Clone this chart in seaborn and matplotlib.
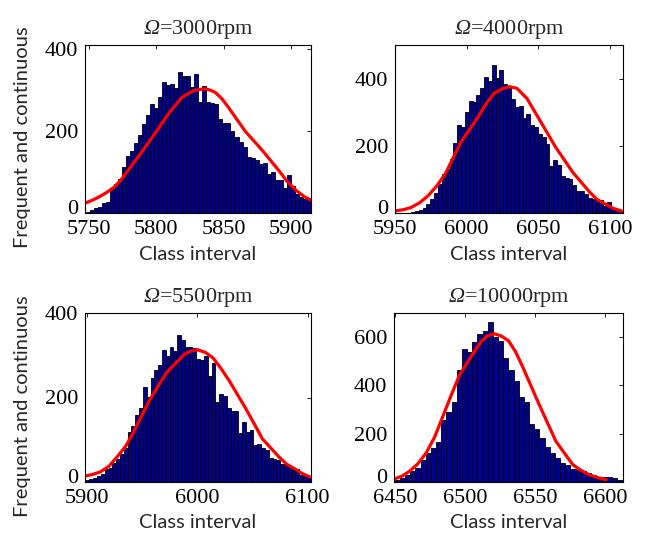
import numpy as np
import pandas as pd
import matplotlib
matplotlib.use('Agg')
import matplotlib.pyplot as plt
import matplotlib.transforms as mtransforms
import seaborn as sns

# speeds shown in the panel titles
speeds = [3000, 4000, 5500, 10000]

# histogram counts (one list per panel)
counts_3000 = [3, 7, 13, 14, 25, 27, 59, 70, 84, 112, 138, 152, 172, 190, 216, 240, 266, 256, 282, 320,
               312, 315, 304, 343, 335, 335, 308, 340, 272, 311, 272, 268, 266, 230, 219, 219, 200, 185, 173, 162,
               137, 134, 129, 120, 121, 96, 100, 80, 81, 61, 93, 65, 47, 39, 35, 31]
counts_4000 = [0, 0, 1, 1, 3, 6, 9, 16, 26, 43, 59, 86, 116, 131, 161, 209, 261, 255, 301, 334,
               331, 351, 371, 404, 393, 439, 403, 426, 383, 371, 339, 316, 319, 283, 296, 261, 256, 236, 226, 206,
               141, 158, 143, 111, 104, 101, 83, 66, 66, 58, 46, 41, 41, 38, 21, 33, 14, 11, 6]
counts_5500 = [4, 6, 9, 14, 20, 31, 33, 45, 55, 67, 81, 119, 132, 158, 176, 224, 202, 247, 265, 276,
               312, 298, 320, 310, 349, 336, 320, 320, 318, 292, 288, 298, 251, 282, 190, 208, 204, 176, 169, 169,
               116, 141, 118, 122, 88, 90, 80, 75, 56, 55, 51, 43, 43, 35, 30, 31, 16, 16, 12]
counts_10000 = [10, 17, 28, 44, 58, 90, 120, 140, 166, 258, 289, 330, 463, 549, 540, 581, 614, 625, 663, 600,
                582, 513, 465, 417, 354, 330, 241, 219, 182, 145, 120, 99, 79, 69, 54, 51, 44, 37, 28, 19,
                19, 21, 17, 7]

# first class edge and class width for each panel
bin_start = [5747.5, 5950.5, 5898.6, 6449.5]
bin_width = [2.99, 2.68, 3.46, 3.70]

# red continuous curve
curve_x_3000 = [5747, 5753, 5759, 5764, 5769, 5774, 5779, 5789, 5799, 5809, 5819, 5824, 5829, 5836, 5840,
                5844, 5849, 5854, 5860, 5866, 5879, 5891, 5897, 5904, 5910, 5915]
curve_y_3000 = [24, 32, 42, 52, 64, 82, 104, 148, 194, 242, 282, 292, 300, 303, 300,
                294, 278, 256, 228, 200, 152, 104, 78, 55, 40, 31]
curve_x_4000 = [5950, 5956, 5961, 5967, 5973, 5979, 5985, 5996, 6008, 6013, 6019, 6025, 6030, 6035, 6042,
                6051, 6062, 6074, 6086, 6091, 6097, 6102, 6108]
curve_y_4000 = [6, 10, 16, 30, 51, 80, 116, 211, 286, 322, 356, 370, 376, 371, 341,
                276, 196, 121, 61, 40, 26, 14, 6]
curve_x_5500 = [5898, 5905, 5912, 5920, 5927, 5935, 5942, 5957, 5972, 5988, 5994, 6000, 6007, 6014, 6021,
                6029, 6044, 6059, 6074, 6081, 6089, 6095, 6102]
curve_y_5500 = [14, 18, 24, 38, 59, 85, 118, 196, 259, 302, 310, 313, 307, 294, 270,
                239, 173, 102, 59, 42, 30, 20, 12]
curve_x_10000 = [6449, 6455, 6460, 6466, 6472, 6478, 6484, 6490, 6496, 6508, 6512, 6516, 6521, 6526, 6531,
                 6536, 6541, 6553, 6565, 6577, 6583, 6589, 6595, 6601]
curve_y_10000 = [12, 25, 44, 75, 120, 185, 272, 360, 444, 554, 585, 606, 614, 604, 585,
                 540, 479, 320, 168, 72, 48, 30, 18, 10]

# axis ticks
xticks = [[5750, 5800, 5850, 5900], [5950, 6000, 6050, 6100], [5900, 6000, 6100], [6450, 6500, 6550, 6600]]
yticks = [[0, 200, 400], [0, 200, 400], [0, 200, 400], [0, 200, 400, 600]]
xlims = [(5747, 5915), (5950, 6109), (5898, 6103), (6449, 6613)]
ylims = [(0, 410), (0, 500), (0, 400), (0, 700)]

all_counts = [counts_3000, counts_4000, counts_5500, counts_10000]
all_cx = [curve_x_3000, curve_x_4000, curve_x_5500, curve_x_10000]
all_cy = [curve_y_3000, curve_y_4000, curve_y_5500, curve_y_10000]

sns.set_style('white')
plt.rcParams['font.family'] = ['Liberation Serif', 'DejaVu Serif']
# only the titles use mathtext: route the capital Omega to the italic face
plt.rcParams['mathtext.fontset'] = 'custom'
plt.rcParams['mathtext.it'] = 'Liberation Serif:italic'
plt.rcParams['mathtext.rm'] = 'Liberation Serif:italic'

W, H = 645, 539
fig = plt.figure(figsize=(W / 100, H / 100), dpi=100)

# axes boxes in pixels: left, top, right, bottom
boxes = [(85, 45, 311, 213), (395, 45, 623, 213), (85, 313, 311, 482), (394, 313, 623, 482)]
label_font = 'Lato'
tick_font = 'Liberation Serif'

for i, (l, t, r, b) in enumerate(boxes):
    ax = fig.add_axes([l / W, 1 - b / H, (r - l) / W, (b - t) / H])
    counts = all_counts[i]
    edges = [bin_start[i] + bin_width[i] * k for k in range(len(counts) + 1)]
    df = pd.DataFrame({'center': [(edges[k] + edges[k + 1]) / 2 for k in range(len(counts))],
                       'count': counts})
    sns.histplot(data=df, x='center', weights='count', bins=edges, ax=ax, color='#00008B',
                 edgecolor='black', linewidth=0.6, alpha=1)
    sns.lineplot(x=all_cx[i], y=all_cy[i], ax=ax, color='red', linewidth=2.3,
                 solid_joinstyle='round', solid_capstyle='round')

    ax.set_xlim(*xlims[i])
    ax.set_ylim(*ylims[i])
    ax.set_xticks(xticks[i])
    ax.set_yticks(yticks[i])
    ax.tick_params(direction='in', length=3, width=0.6, top=True, right=True,
                   labelsize=16, pad=5, colors='black')
    for lab in ax.get_xticklabels() + ax.get_yticklabels():
        lab.set_fontfamily(tick_font)
    # the zero label sits a little above the baseline in the original
    zero_lab = ax.yaxis.get_major_ticks()[0].label1
    zero_lab.set_transform(zero_lab.get_transform() +
                           mtransforms.ScaledTranslation(0, 6 / 100, fig.dpi_scale_trans))
    for s in ax.spines.values():
        s.set_color('black')
        s.set_linewidth(0.8)

    ax.set_title(r'$\Omega$=' + f'{speeds[i]}rpm', fontsize=16, pad=8, family=tick_font)
    ax.set_xlabel('Class interval', fontsize=14.5, family=label_font, va='center')
    ax.xaxis.set_label_coords(0.5, -41 / (b - t))
    if i % 2 == 0:
        ax.set_ylabel('Frequent and continuous', fontsize=14.5, family=label_font, va='center')
        ax.yaxis.set_label_coords(-63 / (r - l), 0.45)
    else:
        ax.set_ylabel('')

fig.savefig('out.png', dpi=100)
